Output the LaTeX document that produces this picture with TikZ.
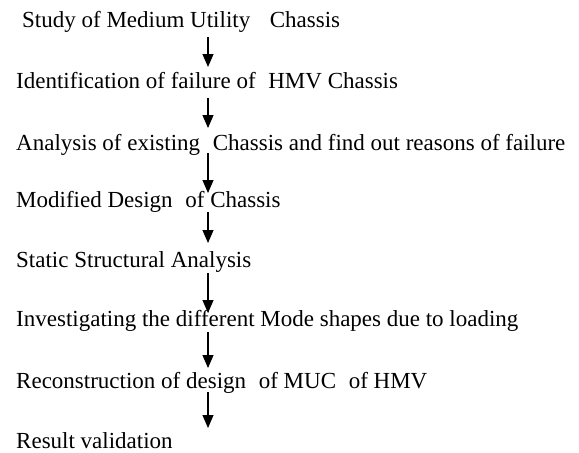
\documentclass[tikz,border=0pt]{standalone}
\usepackage{fontspec}
\setmainfont{Liberation Serif}
\usetikzlibrary{arrows.meta,calc}
\begin{document}
\begin{tikzpicture}[x=1pt,y=-1pt,
  lbl/.style={anchor=base west,inner sep=0pt,font=\fontsize{23}{27}\selectfont},
  arr/.style={line width=1.1pt,-{Triangle[width=11pt,length=13pt]}}]
\useasboundingbox[fill=white] (0,0) rectangle (579,453);
\coordinate (ax) at (208,0);
\node[lbl] (n1) at (22,27) {Study of Medium Utility\hspace{0.6em} Chassis};
\node[lbl] (n2) at (16,88) {Identification of failure of\hspace{0.3em} HMV Chassis};
\node[lbl] (n3) at (16,150) {Analysis of existing\hspace{0.3em} Chassis and find out reasons of failure};
\node[lbl] (n4) at (16,207) {Modified Design\hspace{0.3em} of Chassis};
\node[lbl] (n5) at (16,267) {Static Structural Analysis};
\node[lbl] (n6) at (16,326) {Investigating the different Mode shapes due to loading};
\node[lbl] (n7) at (16,388) {Reconstruction of design\hspace{0.3em} of MUC\hspace{0.3em} of HMV};
\node[lbl] (n8) at (16,448) {Result validation};
\draw[arr] ($(n1.base -| ax)+(0,10)$) -- ($(n2.base -| ax)+(0,-21)$);
\draw[arr] ($(n2.base -| ax)+(0,10)$) -- ($(n3.base -| ax)+(0,-22)$);
\draw[arr] ($(n3.base -| ax)+(0,3)$) -- ($(n4.base -| ax)+(0,-14)$);
\draw[arr] ($(n4.base -| ax)+(0,5)$) -- ($(n5.base -| ax)+(0,-24)$);
\draw[arr] ($(n5.base -| ax)+(0,6)$) -- ($(n6.base -| ax)+(0,-13)$);
\draw[arr] ($(n6.base -| ax)+(0,6)$) -- ($(n7.base -| ax)+(0,-20)$);
\draw[arr] ($(n7.base -| ax)+(0,4)$) -- ($(n8.base -| ax)+(0,-20)$);
\end{tikzpicture}
\end{document}
